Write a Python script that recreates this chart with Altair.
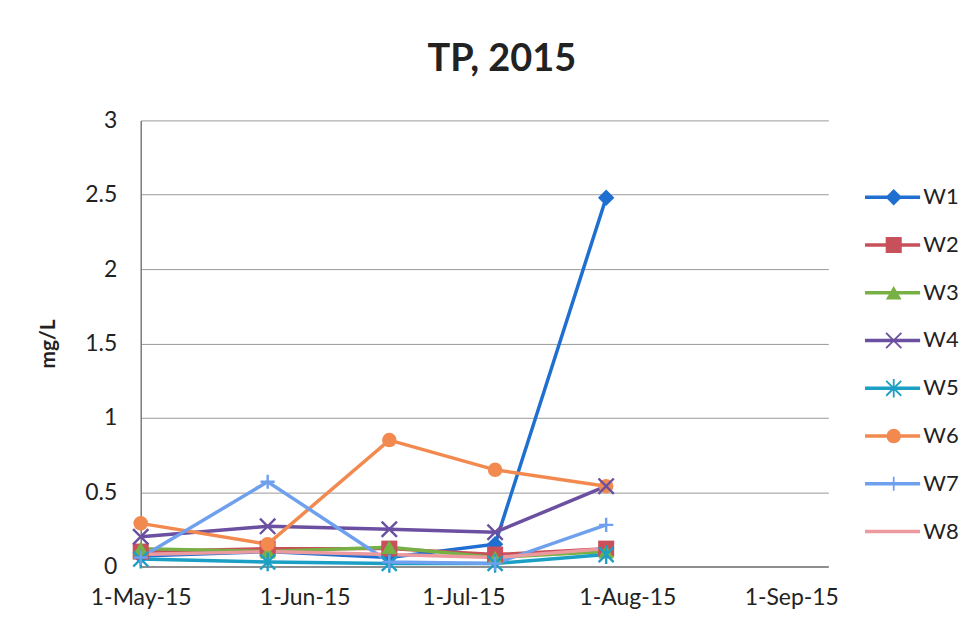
import altair as alt
import pandas as pd

# ---- data ----
series = ["W1", "W2", "W3", "W4", "W5", "W6", "W7", "W8"]
dates = ["2015-05-01T00:00:00", "2015-05-25T00:00:00", "2015-06-17T00:00:00",
         "2015-07-07T00:00:00", "2015-07-28T00:00:00"]
W1 = [0.07, 0.10, 0.06, 0.15, 2.48]
W2 = [0.10, 0.12, 0.12, 0.08, 0.12]
W3 = [0.12, 0.10, 0.13, 0.06, 0.10]
W4 = [0.20, 0.27, 0.25, 0.23, 0.54]
W5 = [0.05, 0.03, 0.02, 0.02, 0.08]
W6 = [0.29, 0.15, 0.85, 0.65, 0.54]
W7 = [0.06, 0.57, 0.03, 0.02, 0.28]
W8 = [0.08, 0.10, 0.08, 0.06, 0.12]
y_ticks = [0, 0.5, 1, 1.5, 2, 2.5, 3]
title_text = "TP, 2015"
y_title = "mg/L"

# ---- styles ----
colors = ["#1f6fd0", "#c8505a", "#77b044", "#6b4fa0", "#1b9fc4", "#f28a50", "#6fa0ee", "#ec9aa0"]
X_PATH = "M-1,-1L1,1M-1,1L1,-1"
AST_PATH = "M-1,-1L1,1M-1,1L1,-1M0,-1.25L0,1.25"
PLUS_PATH = "M-1,0L1,0M0,-1L0,1"
shapes = ["diamond", "square", "triangle-up", X_PATH, AST_PATH, "circle", PLUS_PATH, "circle"]
sizes = [270, 190, 230, 260, 260, 420, 320, 0]
filled_series = ["W1", "W2", "W3", "W6"]
stroked_series = ["W4", "W5", "W7"]
FONT = "Lato"

all_vals = [W1, W2, W3, W4, W5, W6, W7, W8]
rows = []
for s, vals in zip(series, all_vals):
    for d, v in zip(dates, vals):
        rows.append({"date": d, "series": s, "value": v})
df = pd.DataFrame(rows)
legend_df = pd.DataFrame({"series": series})

color_enc = alt.Color("series:N", scale=alt.Scale(domain=series, range=colors), legend=None)
shape_enc = alt.Shape("series:N", scale=alt.Scale(domain=series, range=shapes), legend=None)
size_enc = alt.Size("series:N", scale=alt.Scale(domain=series, range=sizes), legend=None)

x_enc = alt.X(
    "date:T",
    scale=alt.Scale(domain=[alt.DateTime(year=2015, month=5, date=1),
                            alt.DateTime(year=2015, month=9, date=8)]),
    axis=alt.Axis(
        values=[alt.DateTime(year=2015, month=m, date=1) for m in [5, 6, 7, 8, 9]],
        format="%-d-%b-%y", title=None, grid=False, ticks=False,
        labelPadding=20, labelFontSize=23, labelColor="#222222", labelFont=FONT,
        domainColor="#7a7a7a", domainWidth=1.5, labelOverlap=False, labelFlush=False,
    ),
)
y_enc = alt.Y(
    "value:Q",
    scale=alt.Scale(domain=[0, 3], nice=False),
    axis=alt.Axis(
        values=y_ticks, format="~g", title=y_title, titleFontSize=21, titleFont=FONT,
        titleFontWeight="bold", titleColor="#222222", titlePadding=26,
        labelFontSize=23, labelFont=FONT, labelColor="#222222", labelPadding=24,
        ticks=False, grid=True, gridColor="#9a9a9a", gridWidth=1,
        domainColor="#7a7a7a", domainWidth=1.5,
    ),
)

lines = alt.Chart(df).mark_line(strokeWidth=3.5).encode(
    x=x_enc, y=y_enc, color=color_enc, detail="series:N"
)
pts_filled = alt.Chart(df).transform_filter(
    alt.FieldOneOfPredicate(field="series", oneOf=filled_series)
).mark_point(filled=True, opacity=1).encode(
    x="date:T", y="value:Q", color=color_enc, shape=shape_enc, size=size_enc
)
pts_stroked = alt.Chart(df).transform_filter(
    alt.FieldOneOfPredicate(field="series", oneOf=stroked_series)
).mark_point(filled=False, opacity=1, strokeWidth=2.4).encode(
    x="date:T", y="value:Q", color=color_enc, shape=shape_enc, size=size_enc
)
main = alt.layer(lines, pts_filled, pts_stroked).properties(width=689, height=447)

# ---- legend panel ----
ly = alt.Y("series:N", scale=alt.Scale(domain=series, range=[77, 412], type="point", padding=0), axis=None)
lx_scale = alt.Scale(domain=[0, 1])
leg_line = alt.Chart(legend_df).mark_rule(strokeWidth=3.5).encode(
    x=alt.XDatum(0.12, scale=lx_scale, axis=None), x2=alt.X2Datum(0.60),
    y=ly, color=color_enc,
)
leg_f = alt.Chart(legend_df).transform_filter(
    alt.FieldOneOfPredicate(field="series", oneOf=filled_series)
).mark_point(filled=True, opacity=1).encode(
    x=alt.XDatum(0.37, scale=lx_scale, axis=None), y=ly, color=color_enc,
    shape=shape_enc, size=size_enc,
)
leg_s = alt.Chart(legend_df).transform_filter(
    alt.FieldOneOfPredicate(field="series", oneOf=stroked_series)
).mark_point(filled=False, opacity=1, strokeWidth=1.8).encode(
    x=alt.XDatum(0.37, scale=lx_scale, axis=None), y=ly, color=color_enc,
    shape=shape_enc, size=size_enc,
)
leg_t = alt.Chart(legend_df).mark_text(
    align="left", baseline="middle", fontSize=22, font=FONT, color="#222222", dx=2
).encode(
    x=alt.XDatum(0.61, scale=lx_scale, axis=None), y=ly, text="series:N"
)
legend_panel = alt.layer(leg_line, leg_f, leg_s, leg_t).properties(width=115, height=447)

chart = alt.hconcat(main, legend_panel, spacing=12).resolve_scale(
    x="independent", y="independent"
).properties(
    title=alt.Title(title_text, fontSize=38, font=FONT, fontWeight="bold",
                    color="#222222", anchor="middle", offset=30),
    padding={"left": 29, "top": 33, "right": 5, "bottom": 5},
    background="white",
).configure_view(stroke=None)

chart.save("out.html", embed_options={"renderer": "svg", "actions": False})
